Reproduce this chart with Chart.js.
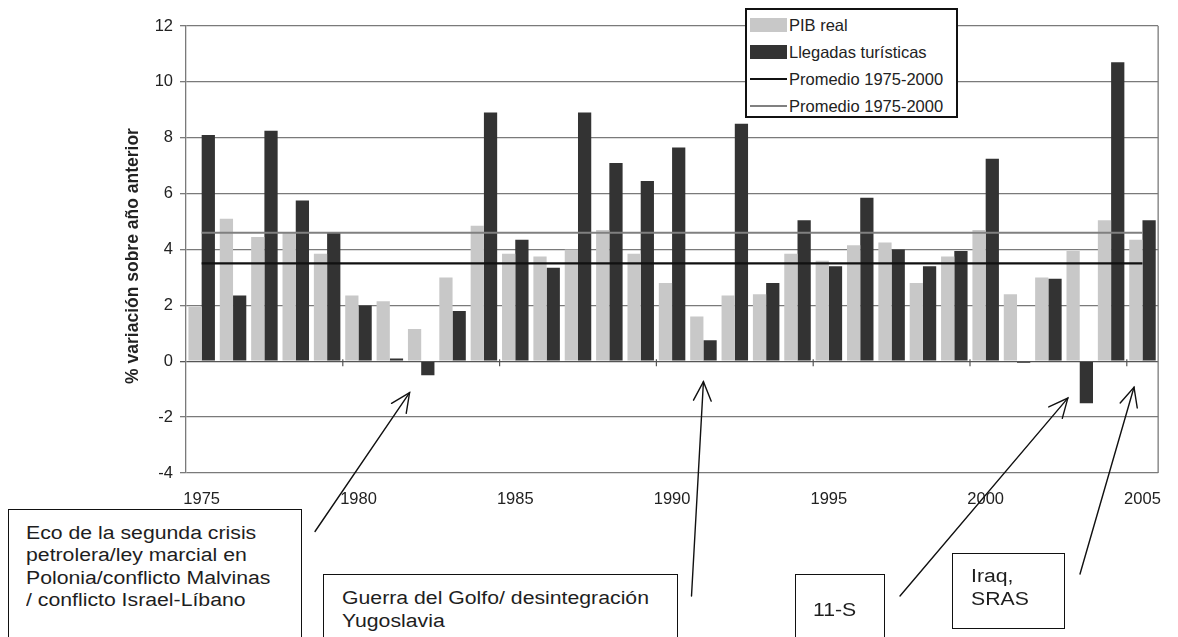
<!DOCTYPE html>
<html>
<head>
<meta charset="utf-8">
<script src="https://cdn.jsdelivr.net/npm/chart.js@4.4.1/dist/chart.umd.min.js"></script>
<style>
html,body{margin:0;padding:0;background:#fff;overflow:hidden;width:1178px;height:637px;}
#wrap{position:relative;width:1178px;height:637px;font-family:"Liberation Sans",Arial,sans-serif;color:#222;}
#c{position:absolute;left:0;top:0;}
.box{position:absolute;border:1.5px solid #111;background:#fff;box-sizing:border-box;}
.t{position:absolute;white-space:nowrap;font-size:18px;line-height:23px;transform:scaleX(1.18);transform-origin:0 50%;color:#1e1e1e;}
#legend{position:absolute;left:745px;top:8px;width:213px;height:110px;border:2.5px solid #111;background:#fff;box-sizing:border-box;}
.sw{position:absolute;}
.lt{position:absolute;font-size:16.5px;line-height:20px;white-space:nowrap;color:#222;}
</style>
</head>
<body>
<div id="wrap">
  <canvas id="c" width="1178" height="637"></canvas>
</div>
<script>
// ---- data ----
const years = ['1975','1976','1977','1978','1979','1980','1981','1982','1983','1984','1985','1986','1987','1988','1989','1990',
               '1991','1992','1993','1994','1995','1996','1997','1998','1999','2000','2001','2002','2003','2004','2005'];
const pibReal = [1.95,5.1,4.45,4.6,3.85,2.35,2.15,1.15,3.0,4.85,3.85,3.75,4.0,4.7,3.85,2.8,
                 1.6,2.35,2.4,3.85,3.6,4.15,4.25,2.8,3.75,4.7,2.4,3.0,3.95,5.05,4.35];
const llegadas = [8.1,2.35,8.25,5.75,4.6,2.0,0.1,-0.5,1.8,8.9,4.35,3.35,8.9,7.1,6.45,7.65,
                  0.75,8.5,2.8,5.05,3.4,5.85,4.0,3.4,3.95,7.25,-0.05,2.95,-1.5,10.7,5.05];
const promedioEnds = ['1975','2005'];
const promedioNegro = [3.5, 3.5];
const promedioGris = [4.6, 4.6];
const yTicks = [-4,-2,0,2,4,6,8,10,12];
const seriesNames = ['PIB real','Llegadas turísticas','Promedio 1975-2000','Promedio 1975-2000'];
const yTitle = '% variación sobre año anterior';

// annotations: text boxes and arrows (tips in data terms: category index, value)
const notes = [
  {lines:['Eco de la segunda crisis','petrolera/ley marcial en','Polonia/conflicto Malvinas','/ conflicto Israel-Líbano'],
   box:[8,509,294,150], text:[26,522,22.4], tail:[315,531.5], tip:[6.63,-1.12]},
  {lines:['Guerra del Golfo/ desintegración','Yugoslavia'],
   box:[323,574,355,90], text:[341.5,586.5,23.4], tail:[691.5,596], tip:[16.0,-0.73]},
  {lines:['11-S'], box:[795,574,90,90], text:[813,598.5,23.4], tail:[900,596], tip:[27.62,-1.32]},
  {lines:['Iraq,','SRAS'], box:[952,553,113,76], text:[970.5,565,23.3], tail:[1080,574], tip:[29.73,-0.93]}
];

const GRAY = '#c8c8c8', DARK = '#333333';
const FONT = '"Liberation Sans", Arial, sans-serif';

const wrap = document.getElementById('wrap');
notes.forEach(n => {
  const b = document.createElement('div');
  b.className = 'box';
  b.style.left = n.box[0]+'px'; b.style.top = n.box[1]+'px';
  b.style.width = n.box[2]+'px'; b.style.height = n.box[3]+'px';
  wrap.appendChild(b);
  n.lines.forEach((s,i) => {
    const t = document.createElement('div');
    t.className = 't';
    t.textContent = s;
    t.style.left = n.text[0]+'px';
    t.style.top = (n.text[1] + i*n.text[2])+'px';
    wrap.appendChild(t);
  });
});

const overlay = {
  id:'overlay',
  beforeDatasetsDraw(chart){
    const {ctx, chartArea:a} = chart;
    ctx.save();
    ctx.strokeStyle = '#7a7a7a'; ctx.lineWidth = 1.3;
    ctx.beginPath(); ctx.moveTo(a.right, a.top); ctx.lineTo(a.right, a.bottom); ctx.stroke();
    ctx.restore();
  },
  afterDraw(chart){
    const {ctx, scales:{x,y}} = chart;
    const step = x.getPixelForValue(1) - x.getPixelForValue(0);
    const x0 = x.getPixelForValue(0);
    const y0 = y.getPixelForValue(0);
    ctx.save();
    // y axis title
    ctx.save();
    ctx.translate(133, 256);
    ctx.rotate(-Math.PI/2);
    ctx.font = 'bold 17.5px ' + FONT;
    ctx.fillStyle = '#222';
    ctx.textAlign = 'center'; ctx.textBaseline = 'middle';
    ctx.fillText(yTitle, 0, 0);
    ctx.restore();
    // category tick marks on the zero line every 5 years
    ctx.strokeStyle = '#555'; ctx.lineWidth = 1.2;
    for (let i = 4.5; i < years.length; i += 5) {
      const px = x0 + i*step;
      ctx.beginPath(); ctx.moveTo(px, y0-2); ctx.lineTo(px, y0+5); ctx.stroke();
    }
    // arrows
    ctx.strokeStyle = '#111'; ctx.lineWidth = 1.4; ctx.lineCap = 'round';
    notes.forEach(n => {
      const tx = x0 + n.tip[0]*step, ty = y.getPixelForValue(n.tip[1]);
      const [sx, sy] = n.tail;
      ctx.beginPath(); ctx.moveTo(sx, sy); ctx.lineTo(tx, ty); ctx.stroke();
      const ang = Math.atan2(sy-ty, sx-tx);
      const L = 21, h = 25*Math.PI/180;
      ctx.beginPath();
      ctx.moveTo(tx + L*Math.cos(ang+h), ty + L*Math.sin(ang+h));
      ctx.lineTo(tx, ty);
      ctx.lineTo(tx + L*Math.cos(ang-h), ty + L*Math.sin(ang-h));
      ctx.stroke();
    });
    ctx.restore();
  }
};

const chart = new Chart(document.getElementById('c'), {
  data: {
    labels: years,
    datasets: [
      {type:'line', label: seriesNames[2], data: promedioEnds.map((e,i)=>({x:e, y:promedioNegro[i]})),
       borderColor:'#111', borderWidth:2.2, pointRadius:0, order:0},
      {type:'line', label: seriesNames[3], data: promedioEnds.map((e,i)=>({x:e, y:promedioGris[i]})),
       borderColor:'#808080', borderWidth:2.2, pointRadius:0, order:0},
      {type:'bar', label: seriesNames[0], data: pibReal, backgroundColor: GRAY,
       categoryPercentage:0.845, barPercentage:1.0, order:1},
      {type:'bar', label: seriesNames[1], data: llegadas, backgroundColor: DARK,
       categoryPercentage:0.845, barPercentage:1.0, order:1}
    ]
  },
  options: {
    responsive:false, animation:false,
    layout:{padding:{top:26, right:11, bottom:0, left:0}},
    plugins:{legend:{display:false}, tooltip:{enabled:false}},
    scales:{
      x:{
        type:'category', offset:true,
        grid:{display:false, drawTicks:false},
        border:{display:false},
        ticks:{autoSkip:false, maxRotation:0, padding:17,
               font:{family:FONT, size:16.5}, color:'#222',
               callback(v){ const l = this.getLabelForValue(v); return (+l)%5===0 ? l : ''; }},
        afterFit(s){ s.height = 164; }
      },
      y:{
        min:-4, max:12,
        afterBuildTicks(s){ s.ticks = yTicks.map(v=>({value:v})); },
        grid:{color:(c)=> c.tick && c.tick.value===0 ? '#555' : '#7a7a7a', lineWidth:1.3, tickLength:6},
        border:{display:true, color:'#7a7a7a', width:1.3},
        ticks:{padding:7, font:{family:FONT, size:16.5}, color:'#222'},
        afterFit(s){ s.width = 186; }
      }
    }
  },
  plugins:[overlay]
});

// legend built from the datasets
const leg = document.createElement('div'); leg.id = 'legend'; wrap.appendChild(leg);
const rows = [
  {ds:2, kind:'box', y:25},
  {ds:3, kind:'box', y:51.7},
  {ds:0, kind:'line', y:79},
  {ds:1, kind:'line', y:105.7}
];
rows.forEach(r => {
  const d = chart.data.datasets[r.ds];
  const sw = document.createElement('div'); sw.className = 'sw';
  sw.style.left = '750px'; sw.style.width = '37px';
  if (r.kind === 'box') { sw.style.top = (r.y-7)+'px'; sw.style.height='14px'; sw.style.background = d.backgroundColor; }
  else { sw.style.top = (r.y-1)+'px'; sw.style.height='2px'; sw.style.background = d.borderColor; }
  wrap.appendChild(sw);
  const t = document.createElement('div'); t.className = 'lt';
  t.textContent = d.label; t.style.left = '789px'; t.style.top = (r.y-10)+'px';
  wrap.appendChild(t);
});
</script>
</body>
</html>
